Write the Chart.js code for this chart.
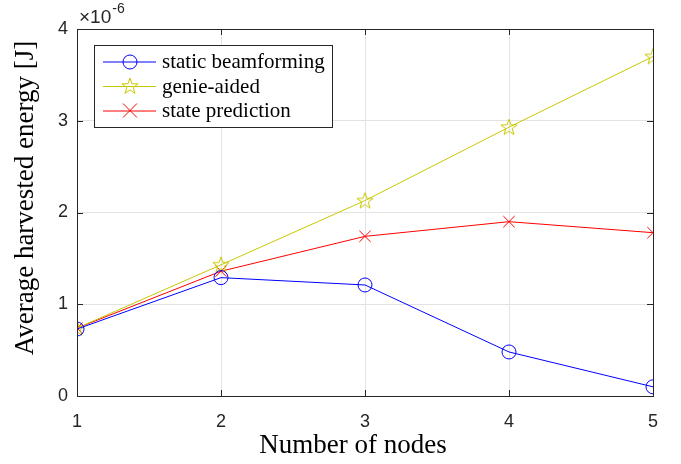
<!DOCTYPE html>
<html>
<head>
<meta charset="utf-8">
<script src="https://cdn.jsdelivr.net/npm/chart.js@4"></script>
<style>
  html, body { margin: 0; padding: 0; background: #fff; }
  #wrap { width: 681px; height: 464px; }
</style>
</head>
<body>
<div id="wrap"><canvas id="chart" width="681" height="464"></canvas></div>
<script>
const nodes = [1, 2, 3, 4, 5];
const staticBeam = [0.73, 1.29, 1.21, 0.48, 0.10];
const genieAided = [0.74, 1.43, 2.13, 2.93, 3.70];
const statePred = [0.74, 1.36, 1.74, 1.90, 1.78];
const yTicks = [0, 1, 2, 3, 4];
const seriesNames = ["static beamforming", "genie-aided", "state prediction"];
const xTitle = "Number of nodes";
const yTitle = "Average harvested energy [J]";

const BLUE = "#0000ff";
const YELLOW = "#c8c800";
const RED = "#ff0000";
const AXIS = "#262626";
const SERIF = "'Liberation Serif', 'Times New Roman', serif";
const SANS = "'Liberation Sans', Arial, sans-serif";

// pentagram marker like matlab's 'p'
function makeStar(color) {
  const c = document.createElement("canvas");
  c.width = 20; c.height = 20;
  const g = c.getContext("2d");
  g.strokeStyle = color;
  g.lineWidth = 1;
  g.beginPath();
  for (let i = 0; i < 10; i++) {
    const r = i % 2 === 0 ? 8.5 : 3.4;
    const a = -Math.PI / 2 + i * Math.PI / 5;
    const px = 10 + r * Math.cos(a), py = 10.5 + r * Math.sin(a);
    if (i === 0) g.moveTo(px, py); else g.lineTo(px, py);
  }
  g.closePath();
  g.stroke();
  return c;
}
const starImg = makeStar(YELLOW);

const toXY = (arr) => arr.map((v, i) => ({ x: nodes[i], y: v }));

const frame = {
  id: "frame",
  afterDraw(chart) {
    const { ctx, chartArea: a, scales } = chart;
    ctx.save();
    ctx.strokeStyle = AXIS;
    ctx.lineWidth = 1;
    ctx.strokeRect(a.left + 0.5, a.top + 0.5, a.right - a.left, a.bottom - a.top);
    ctx.beginPath();
    const tl = 6;
    nodes.forEach((v) => {
      const px = Math.round(scales.x.getPixelForValue(v)) + 0.5;
      ctx.moveTo(px, a.bottom); ctx.lineTo(px, a.bottom - tl);
      ctx.moveTo(px, a.top); ctx.lineTo(px, a.top + tl);
    });
    yTicks.forEach((v) => {
      const py = Math.round(scales.y.getPixelForValue(v)) + 0.5;
      ctx.moveTo(a.left, py); ctx.lineTo(a.left + tl, py);
      ctx.moveTo(a.right, py); ctx.lineTo(a.right - tl, py);
    });
    ctx.stroke();

    // exponent label
    ctx.fillStyle = AXIS;
    ctx.textAlign = "left";
    ctx.textBaseline = "alphabetic";
    ctx.font = "19px " + SANS;
    ctx.fillText("\u00d710", a.left + 2, a.top - 6);
    const w = ctx.measureText("\u00d710").width;
    ctx.font = "14px " + SANS;
    ctx.fillText("-6", a.left + 3 + w, a.top - 16);

    // axis titles
    ctx.fillStyle = "#000";
    ctx.font = "27px " + SERIF;
    ctx.textAlign = "center";
    ctx.textBaseline = "middle";
    ctx.fillText(xTitle, 353, 446);
    ctx.save();
    ctx.translate(26, 198);
    ctx.rotate(-Math.PI / 2);
    ctx.fillText(yTitle, 0, 0);
    ctx.restore();

    // legend box
    const lx = a.left + 17, ly = 45, lw = 238, lh = 82;
    ctx.fillStyle = "#fff";
    ctx.fillRect(lx, ly, lw, lh);
    ctx.strokeStyle = AXIS;
    ctx.strokeRect(lx + 0.5, ly + 0.5, lw, lh);
    const rows = [61.5, 86, 110.5];
    ctx.textAlign = "left";
    chart.data.datasets.forEach((ds, i) => {
      const y = rows[i];
      ctx.strokeStyle = ds.borderColor;
      ctx.lineWidth = 1;
      ctx.beginPath();
      ctx.moveTo(lx + 9, y + 0.5); ctx.lineTo(lx + 62, y + 0.5);
      ctx.stroke();
      const mx = lx + 36;
      if (i === 0) {
        ctx.beginPath(); ctx.arc(mx, y + 0.5, 7, 0, Math.PI * 2); ctx.stroke();
      } else if (i === 1) {
        ctx.drawImage(starImg, mx - 10, y - 10);
      } else {
        ctx.beginPath();
        ctx.moveTo(mx - 7, y - 7); ctx.lineTo(mx + 7, y + 7);
        ctx.moveTo(mx + 7, y - 7); ctx.lineTo(mx - 7, y + 7);
        ctx.stroke();
      }
      ctx.fillStyle = "#000";
      ctx.font = "21px " + SERIF;
      ctx.textBaseline = "middle";
      ctx.fillText(ds.label, lx + 68, y + 1);
    });
    ctx.restore();
  },
};

new Chart(document.getElementById("chart"), {
  type: "line",
  data: {
    datasets: [
      {
        label: seriesNames[0],
        data: toXY(staticBeam),
        borderColor: BLUE,
        borderWidth: 1,
        pointStyle: "circle",
        pointRadius: 7,
        pointBorderWidth: 1,
        pointBorderColor: BLUE,
        pointBackgroundColor: "rgba(0,0,0,0)",
      },
      {
        label: seriesNames[1],
        data: toXY(genieAided),
        borderColor: YELLOW,
        borderWidth: 1,
        pointStyle: starImg,
      },
      {
        label: seriesNames[2],
        data: toXY(statePred),
        borderColor: RED,
        borderWidth: 1,
        pointStyle: "crossRot",
        pointRadius: 8,
        pointBorderWidth: 1,
        pointBorderColor: RED,
      },
    ],
  },
  options: {
    responsive: false,
    animation: false,
    events: [],
    layout: { padding: { top: 29, right: 28, left: 0, bottom: 0 } },
    plugins: { legend: { display: false }, tooltip: { enabled: false } },
    scales: {
      x: {
        type: "linear",
        min: 1,
        max: 5,
        afterFit: (s) => { s.height = 68; },
        afterBuildTicks: (s) => { s.ticks = nodes.map((v) => ({ value: v })); },
        grid: { color: "#e3e3e3", drawTicks: false },
        border: { display: false },
        ticks: {
          padding: 15,
          color: AXIS,
          font: { family: SANS, size: 18 },
        },
      },
      y: {
        min: 0,
        max: 4,
        afterFit: (s) => { s.width = 77; },
        afterBuildTicks: (s) => { s.ticks = yTicks.map((v) => ({ value: v })); },
        grid: { color: "#e3e3e3", drawTicks: false },
        border: { display: false },
        ticks: {
          padding: 9,
          color: AXIS,
          font: { family: SANS, size: 18 },
        },
      },
    },
  },
  plugins: [frame],
});
</script>
</body>
</html>
